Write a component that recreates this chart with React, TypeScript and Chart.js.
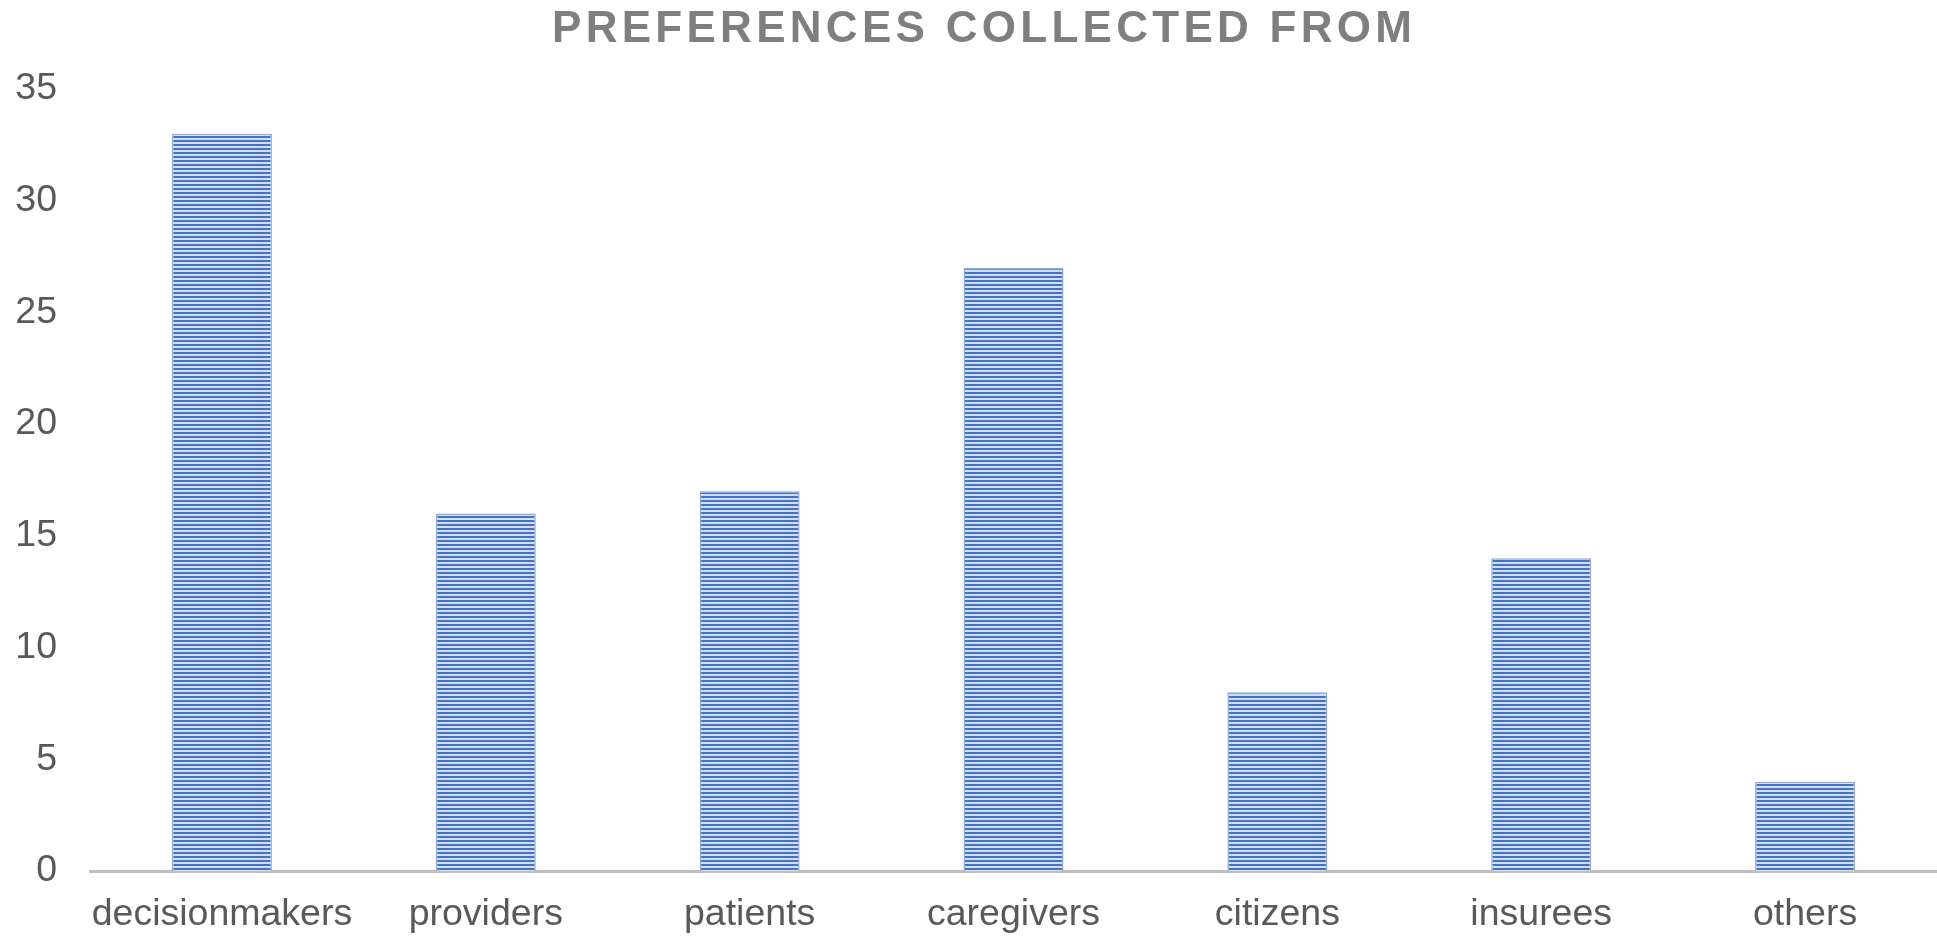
import React, { useEffect, useRef } from "react";
import { Chart, registerables } from "chart.js";

Chart.register(...registerables);

// Respondent groups and how many preference studies collected from each
const categories = [
  "decisionmakers",
  "providers",
  "patients",
  "caregivers",
  "citizens",
  "insurees",
  "others",
];
const counts = [33, 16, 17, 27, 8, 14, 4];
const yTicks = [0, 5, 10, 15, 20, 25, 30, 35];
const titleText = "PREFERENCES COLLECTED FROM";

const FONT = "'Liberation Sans', Arial, sans-serif";
const W = 1937;
const H = 936;

// Horizontal pinstripe fill for the bars
function makeStripes(ctx: CanvasRenderingContext2D): CanvasPattern | string {
  const tile = document.createElement("canvas");
  tile.width = 4;
  tile.height = 4;
  const t = tile.getContext("2d");
  if (!t) return "#4472c4";
  t.fillStyle = "#d3def2";
  t.fillRect(0, 0, 4, 4);
  t.fillStyle = "#4472c4";
  t.fillRect(0, 0, 4, 2);
  return ctx.createPattern(tile, "repeat") || "#4472c4";
}

// Spaced-out bold heading above the plot
const spacedTitle = {
  id: "spacedTitle",
  afterDraw(chart: Chart) {
    const ctx = chart.ctx;
    ctx.save();
    ctx.font = `bold 44px ${FONT}`;
    ctx.fillStyle = "#7f7f7f";
    ctx.textAlign = "left";
    ctx.textBaseline = "alphabetic";
    const plain = ctx.measureText(titleText).width;
    const targetWidth = 860;
    const spacing = (targetWidth - plain) / (titleText.length - 1);
    (ctx as any).letterSpacing = `${spacing}px`;
    ctx.fillText(titleText, 552, 41.5);
    ctx.restore();
  },
};

export default function App() {
  const ref = useRef<HTMLCanvasElement | null>(null);

  useEffect(() => {
    const canvas = ref.current;
    if (!canvas) return;
    const ctx = canvas.getContext("2d");
    if (!ctx) return;
    const stripes = makeStripes(ctx);

    const chart = new Chart(canvas, {
      type: "bar",
      data: {
        labels: categories,
        datasets: [
          {
            data: counts,
            backgroundColor: stripes as any,
            borderColor: "#8eaadb",
            borderWidth: { left: 1.5, right: 1.5, top: 1.5, bottom: 0 },
            borderSkipped: false,
            barPercentage: 0.379,
            categoryPercentage: 1,
          },
        ],
      },
      plugins: [spacedTitle],
      options: {
        responsive: false,
        animation: false,
        devicePixelRatio: 1,
        layout: { padding: { top: 89, left: 0, right: 0, bottom: 0 } },
        plugins: {
          legend: { display: false },
          title: { display: false },
          tooltip: { enabled: false },
        },
        scales: {
          x: {
            z: 1,
            grid: { display: false, drawTicks: false },
            border: { display: true, color: "#bfbfbf", width: 3 },
            ticks: {
              color: "#595959",
              font: { family: FONT, size: 37.5 },
              padding: 21,
              maxRotation: 0,
              autoSkip: false,
            },
            afterFit(scale: any) {
              scale.height = 65;
            },
          },
          y: {
            min: 0,
            max: 35,
            grid: { display: false, drawTicks: false },
            border: { display: false },
            afterBuildTicks(scale: any) {
              scale.ticks = yTicks.map((v) => ({ value: v }));
            },
            ticks: {
              color: "#595959",
              font: { family: FONT, size: 37.5 },
              padding: 33,
            },
            afterFit(scale: any) {
              scale.width = 90;
            },
          },
        },
      },
    });

    return () => chart.destroy();
  }, []);

  return (
    <div style={{ position: "fixed", left: 0, top: 0, width: W, height: H, background: "#fff" }}>
      <canvas ref={ref} width={W} height={H} style={{ display: "block", width: W, height: H }} />
    </div>
  );
}
